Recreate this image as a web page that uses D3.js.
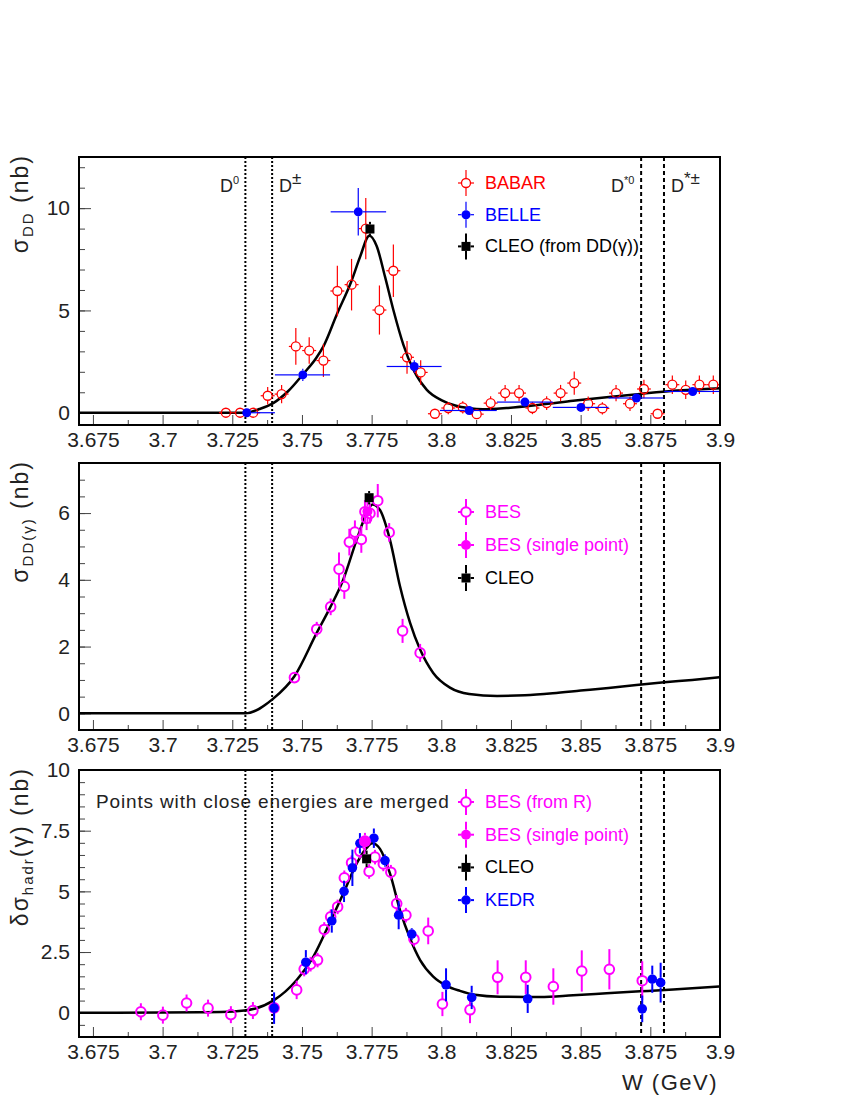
<!DOCTYPE html>
<html>
<head>
<meta charset="utf-8">
<script src="https://cdn.jsdelivr.net/npm/d3@7.9.0/dist/d3.min.js"></script>
<style>
  body { margin: 0; background: #fff; }
  text { font-family: "Liberation Sans", Arial, sans-serif; fill: #222; }
</style>
</head>
<body>
<svg id="chart" width="864" height="1118"></svg>
<script>
// x axis (W, GeV)
const wRange = [3.67, 3.9];
const xTicks = [3.675, 3.7, 3.725, 3.75, 3.775, 3.8, 3.825, 3.85, 3.875, 3.9];
// thresholds: D0 D0bar, D+D-, D*0 D0bar, D*+ D-
const thresholdW = [3.7297, 3.7393, 3.8717, 3.8799];
const thresholdDash = ['2,2', '2,2', '4,3', '4,3'];

// ---- top panel: sigma_DD ----
const babarW = [3.7227, 3.7278, 3.7325, 3.7377, 3.7427, 3.7478, 3.7526, 3.7577, 3.7627, 3.7678, 3.7729, 3.7778,
  3.7828, 3.7877, 3.7926, 3.7977, 3.8025, 3.8077, 3.8127, 3.8177, 3.8229, 3.8279, 3.8327, 3.8378, 3.8428, 3.8477,
  3.8527, 3.8578, 3.8627, 3.8677, 3.8727, 3.8776, 3.8829, 3.8877, 3.8926, 3.8976];
const babarS = [0, 0, 0, 0.83, 0.91, 3.24, 3.04, 2.55, 5.95, 6.26, 9.0, 5.02,
  6.94, 2.71, 1.97, -0.05, 0.23, 0.26, -0.07, 0.47, 0.96, 0.96, 0.23, 0.47, 0.96, 1.45,
  0.44, 0.21, 0.96, 0.44, 1.16, -0.05, 1.37, 1.12, 1.37, 1.37];
const babarErr = [0.1, 0.1, 0.1, 0.43, 0.45, 0.9, 0.65, 0.8, 1.24, 1.26, 1.5, 1.2,
  1.28, 0.8, 0.6, 0.1, 0.3, 0.3, 0.2, 0.34, 0.4, 0.4, 0.3, 0.34, 0.4, 0.57,
  0.35, 0.3, 0.4, 0.35, 0.45, 0.2, 0.45, 0.45, 0.45, 0.45];
const babarHalfBin = 0.0025;

const belleW = [3.7302, 3.7503, 3.7702, 3.7903, 3.81, 3.83, 3.8501, 3.87, 3.8902];
const belleLo = [3.7297, 3.7403, 3.7603, 3.7804, 3.7995, 3.82, 3.84, 3.86, 3.88];
const belleHi = [3.7403, 3.7601, 3.7802, 3.8001, 3.8199, 3.84, 3.86, 3.8797, 3.9];
const belleS = [0, 1.85, 9.82, 2.26, 0.11, 0.52, 0.26, 0.72, 1.04];
const belleErr = [0.1, 0.3, 1.16, 0.3, 0.2, 0.2, 0.2, 0.2, 0.2];

const cleoTopW = [3.7744];
const cleoTopS = [8.98];
const cleoTopErr = [0.35];

const fitTopW = [3.67, 3.7297, 3.7347, 3.7397, 3.745, 3.7505, 3.755, 3.7577, 3.7625, 3.7678, 3.7708, 3.7742,
  3.7768, 3.7798, 3.7828, 3.7864, 3.79, 3.7948, 3.8, 3.805, 3.81, 3.815, 3.8234, 3.8354, 3.8473, 3.8593,
  3.8713, 3.8832, 3.9];
const fitTopS = [0, 0, 0.18, 0.47, 1.05, 1.9, 2.65, 3.24, 4.8, 6.45, 7.6, 8.65,
  8.15, 6.65, 5.02, 3.32, 2.1, 1.12, 0.62, 0.35, 0.22, 0.17, 0.23, 0.39, 0.58, 0.76,
  0.92, 1.07, 1.2];

// ---- middle panel: sigma_DD(gamma) ----
const besW = [3.7473, 3.7553, 3.7603, 3.7633, 3.7652, 3.767, 3.769, 3.7713, 3.7726, 3.7732, 3.7744, 3.7772,
  3.7813, 3.7861, 3.7924];
const besS = [1.07, 2.52, 3.19, 4.32, 3.8, 5.13, 5.43, 5.21, 6.04, 5.84, 5.99, 6.37, 5.42, 2.47, 1.81];
const besErr = [0.16, 0.22, 0.25, 0.5, 0.37, 0.4, 0.35, 0.4, 0.35, 0.35, 0.3, 0.5, 0.28, 0.36, 0.27];
const besSingleMidW = [3.7735];
const besSingleMidS = [6.05];
const besSingleMidErr = [0.35];
const cleoMidW = [3.7741];
const cleoMidS = [6.46];
const cleoMidErr = [0.2];

const fitMidW = [3.67, 3.7297, 3.7397, 3.7473, 3.7553, 3.76, 3.7648, 3.7696, 3.7732, 3.7753, 3.778, 3.7816,
  3.7852, 3.7888, 3.7924, 3.7971, 3.8031, 3.81, 3.82, 3.83, 3.84, 3.85, 3.86, 3.87, 3.88, 3.89, 3.9];
const fitMidS = [0, 0, 0.44, 1.11, 2.41, 3.15, 4.0, 5.19, 5.99, 6.26, 6.09, 5.19,
  3.8, 2.71, 1.91, 1.21, 0.77, 0.58, 0.52, 0.54, 0.6, 0.68, 0.76, 0.85, 0.93, 1.0, 1.08];

// ---- bottom panel: delta sigma_hadr(gamma) ----
const besRW = [3.6922, 3.7001, 3.7086, 3.7163, 3.7245, 3.7324, 3.74, 3.7481, 3.7508, 3.7531, 3.7556, 3.758,
  3.7603, 3.7628, 3.7652, 3.7678, 3.7708, 3.7741, 3.7762, 3.7792, 3.7819, 3.784, 3.7873, 3.7902, 3.7953, 3.8004,
  3.8103, 3.8202, 3.8303, 3.8402, 3.8504, 3.8603, 3.8721];
const besRS = [0.04, -0.1, 0.4, 0.19, -0.08, 0.09, 0.2, 0.94, 1.8, 2.0, 2.17, 3.43,
  3.95, 4.36, 5.56, 6.18, 6.65, 5.82, 6.41, 6.13, 5.79, 4.5, 4.02, 3.03, 3.37, 0.36,
  0.12, 1.46, 1.46, 1.08, 1.72, 1.79, 1.32];
const besRErr = [0.35, 0.35, 0.35, 0.35, 0.35, 0.35, 0.4, 0.38, 0.3, 0.3, 0.3, 0.3,
  0.3, 0.3, 0.3, 0.3, 0.3, 0.3, 0.3, 0.3, 0.3, 0.35, 0.3, 0.3, 0.55, 0.5,
  0.55, 0.7, 0.7, 0.75, 0.85, 0.83, 0.8];
const besSingleBotW = [3.7726];
const besSingleBotS = [7.06];
const besSingleBotErr = [0.35];
const cleoBotW = [3.7732];
const cleoBotS = [6.34];
const cleoBotErr = [0.34];
const kedrW = [3.74, 3.7514, 3.7607, 3.7651, 3.7681, 3.7708, 3.7758, 3.7798, 3.7847, 3.7894, 3.8017, 3.8109,
  3.831, 3.8721, 3.8757, 3.8787];
const kedrS = [0.19, 2.08, 3.78, 5.0, 5.97, 6.98, 7.19, 6.27, 4.02, 3.24, 1.15, 0.63, 0.57, 0.16, 1.38, 1.24];
const kedrErr = [0.65, 0.5, 0.48, 0.44, 0.75, 0.42, 0.4, 0.25, 0.58, 0.24, 0.68, 0.48, 0.58, 0.55, 0.56, 0.82];

const fitBotW = [3.67, 3.7, 3.7134, 3.7254, 3.7325, 3.7397, 3.7481, 3.7541, 3.7601, 3.7648, 3.7696, 3.7732,
  3.7752, 3.778, 3.7816, 3.7852, 3.7888, 3.7924, 3.7971, 3.8019, 3.8067, 3.812, 3.821, 3.8354, 3.8473, 3.8593,
  3.8713, 3.8832, 3.9];
const fitBotS = [0, 0.01, 0.02, 0.05, 0.15, 0.5, 1.35, 2.31, 3.74, 4.9, 6.14, 6.79,
  6.98, 6.75, 5.73, 4.22, 3.06, 2.17, 1.49, 1.11, 0.9, 0.74, 0.66, 0.65, 0.72, 0.8,
  0.88, 0.96, 1.08];

const RED = '#ff0000', BLUE = '#0000ff', MAG = '#ff00ff', BLACK = '#000000';

const svg = d3.select('#chart');
svg.append('rect').attr('width', 864).attr('height', 1118).attr('fill', '#fff');

const frameLeft = 79, frameRight = 720;
const x = d3.scaleLinear().domain(wRange).range([frameLeft, frameRight]);

function drawPoints(g, y, ws, ss, errs, o) {
  ws.forEach((w, i) => {
    const cx = x(w), cy = y(ss[i]);
    const t = y(ss[i] + errs[i]), b = y(ss[i] - errs[i]);
    const r = o.r;
    const bar = (x1, y1, x2, y2) => g.append('line')
      .attr('x1', x1).attr('y1', y1).attr('x2', x2).attr('y2', y2)
      .attr('stroke', o.color).attr('stroke-width', o.bw);
    if (cy - t > r) { bar(cx, t, cx, cy - r); bar(cx, cy + r, cx, b); }
    if (o.lo) {
      const xl = x(o.lo[i]), xh = x(o.hi[i]);
      if (cx - xl > r) bar(xl, cy, cx - r, cy);
      if (xh - cx > r) bar(cx + r, cy, xh, cy);
    } else if (o.half) {
      bar(x(w - o.half), cy, cx - r, cy);
      bar(cx + r, cy, x(w + o.half), cy);
    }
    marker(g, cx, cy, o);
  });
}

function marker(g, cx, cy, o) {
  if (o.type === 'square') {
    g.append('rect').attr('x', cx - o.r).attr('y', cy - o.r)
      .attr('width', 2 * o.r).attr('height', 2 * o.r).attr('fill', o.color);
  } else if (o.type === 'open') {
    g.append('circle').attr('cx', cx).attr('cy', cy).attr('r', o.r)
      .attr('fill', 'none').attr('stroke', o.color).attr('stroke-width', o.sw);
  } else {
    g.append('circle').attr('cx', cx).attr('cy', cy).attr('r', o.r).attr('fill', o.color);
  }
}

function legendEntry(g, ly, label, o, textColor) {
  const lx = 466;
  const r = o.r;
  [[lx, ly - 13, lx, ly - r], [lx, ly + r, lx, ly + 13], [lx - 8, ly, lx - r, ly], [lx + r, ly, lx + 8, ly]]
    .forEach(([x1, y1, x2, y2]) => g.append('line')
      .attr('x1', x1).attr('y1', y1).attr('x2', x2).attr('y2', y2)
      .attr('stroke', o.color).attr('stroke-width', o.bw));
  marker(g, lx, ly, o);
  g.append('text').attr('x', 485).attr('y', ly + 6).attr('font-size', 18)
    .style('fill', textColor).text(label);
}

function drawPanel(p) {
  const g = svg.append('g');
  const y = d3.scaleLinear().domain(p.yDomain).range([p.bottom, p.top]);
  const clipId = 'clip' + p.top;
  g.append('clipPath').attr('id', clipId).append('rect')
    .attr('x', frameLeft).attr('y', p.top).attr('width', frameRight - frameLeft).attr('height', p.bottom - p.top);

  // axes (ticks pointing inwards)
  const styleAxis = (a) => {
    a.select('.domain').remove();
    a.selectAll('.tick line').attr('stroke', '#444').attr('stroke-width', 1);
    a.selectAll('text').attr('font-size', 21).style('fill', '#222')
      .attr('font-family', '"Liberation Sans", Arial, sans-serif');
  };
  g.append('g').attr('transform', `translate(0,${p.bottom})`)
    .call(d3.axisBottom(x).tickValues(d3.range(3.6875, 3.9, 0.025)).tickSizeInner(-5).tickSizeOuter(0).tickFormat(''))
    .call(styleAxis);
  g.append('g').attr('transform', `translate(0,${p.bottom})`)
    .call(d3.axisBottom(x).tickValues(xTicks).tickSizeInner(-10).tickSizeOuter(0).tickPadding(7)
      .tickFormat((d) => String(+d.toFixed(3))))
    .call(styleAxis);
  g.append('g').attr('transform', `translate(${frameLeft},0)`)
    .call(d3.axisLeft(y).tickValues(d3.range(Math.ceil(p.yDomain[0] / p.yMinor) * p.yMinor, p.yDomain[1], p.yMinor))
      .tickSizeInner(-6).tickSizeOuter(0).tickFormat(''))
    .call(styleAxis);
  g.append('g').attr('transform', `translate(${frameLeft},0)`)
    .call(d3.axisLeft(y).tickValues(p.yTicks).tickSizeInner(-12).tickSizeOuter(0).tickPadding(9)
      .tickFormat((d) => String(d)))
    .call(styleAxis);

  // threshold lines
  thresholdW.forEach((w, i) => {
    g.append('line').attr('x1', x(w)).attr('x2', x(w)).attr('y1', p.top).attr('y2', p.bottom)
      .attr('stroke', '#000').attr('stroke-width', 2).attr('stroke-dasharray', thresholdDash[i]);
  });

  const inner = g.append('g').attr('clip-path', `url(#${clipId})`);
  const line = d3.line().x((d) => x(d[0])).y((d) => y(d[1])).curve(d3.curveMonotoneX);
  inner.append('path').datum(d3.zip(p.fitW, p.fitS)).attr('d', line)
    .attr('fill', 'none').attr('stroke', '#000').attr('stroke-width', 2.5);

  p.series.forEach((s) => drawPoints(inner, y, s.w, s.s, s.err, s.o));

  g.append('rect').attr('x', frameLeft).attr('y', p.top).attr('width', frameRight - frameLeft).attr('height', p.bottom - p.top)
    .attr('fill', 'none').attr('stroke', '#000').attr('stroke-width', 2);

  p.legend.forEach((l, i) => legendEntry(g, p.legendY + i * p.legendStep, l.label, l.o, l.color));

  // y title
  const t = g.append('text').attr('transform', `translate(28,${p.top - 3}) rotate(-90)`)
    .attr('text-anchor', 'end').attr('font-size', 23).attr('letter-spacing', 2);
  p.title(t);
  return { g, y };
}

const oBabar = { type: 'open', color: RED, r: 4.5, sw: 1.3, bw: 1.2, half: babarHalfBin };
const oBelle = { type: 'filled', color: BLUE, r: 4.5, bw: 1.2, lo: belleLo, hi: belleHi };
const oCleo = { type: 'square', color: BLACK, r: 4.5, bw: 2 };
const oBes = { type: 'open', color: MAG, r: 4.8, sw: 2, bw: 2 };
const oBesSingle = { type: 'filled', color: MAG, r: 5, bw: 2 };
const oKedr = { type: 'filled', color: BLUE, r: 4.8, bw: 2 };

drawPanel({
  top: 157, bottom: 425, yDomain: [-0.6, 12.5], yTicks: [0, 5, 10], yMinor: 1,
  fitW: fitTopW, fitS: fitTopS,
  series: [
    { w: babarW, s: babarS, err: babarErr, o: oBabar },
    { w: belleW, s: belleS, err: belleErr, o: oBelle },
    { w: cleoTopW, s: cleoTopS, err: cleoTopErr, o: oCleo },
  ],
  legendY: 183, legendStep: 31.7,
  legend: [
    { label: 'BABAR', o: { ...oBabar, half: null }, color: RED },
    { label: 'BELLE', o: { ...oBelle, lo: null }, color: BLUE },
    { label: 'CLEO (from DD(γ))', o: oCleo, color: BLACK },
  ],
  title: (t) => {
    t.append('tspan').text('σ');
    t.append('tspan').attr('font-size', 15).attr('dy', 5).text('DD');
    t.append('tspan').attr('dy', -5).text('  (nb)');
  },
});

// threshold labels (top panel only)
const dLabels = [
  { x: 220, base: 'D', sup: '0' },
  { x: 279, base: 'D', sup: '±' },
  { x: 611, base: 'D', sup: '*0' },
  { x: 671, base: 'D', sup: '*±' },
];
dLabels.forEach((d) => {
  const t = svg.append('text').attr('x', d.x).attr('y', 192).attr('font-size', 18);
  t.append('tspan').text(d.base);
  t.append('tspan').attr('dy', -8).attr('font-size', d.sup === '±' || d.sup === '*±' ? 17 : 11).text(d.sup);
});

drawPanel({
  top: 463, bottom: 730, yDomain: [-0.5, 7.5], yTicks: [0, 2, 4, 6], yMinor: 0.5,
  fitW: fitMidW, fitS: fitMidS,
  series: [
    { w: besW, s: besS, err: besErr, o: oBes },
    { w: besSingleMidW, s: besSingleMidS, err: besSingleMidErr, o: oBesSingle },
    { w: cleoMidW, s: cleoMidS, err: cleoMidErr, o: oCleo },
  ],
  legendY: 512, legendStep: 33,
  legend: [
    { label: 'BES', o: oBes, color: MAG },
    { label: 'BES (single point)', o: oBesSingle, color: MAG },
    { label: 'CLEO', o: oCleo, color: BLACK },
  ],
  title: (t) => {
    t.append('tspan').text('σ');
    t.append('tspan').attr('font-size', 15).attr('dy', 5).text('DD(γ)');
    t.append('tspan').attr('dy', -5).text('  (nb)');
  },
});

drawPanel({
  top: 770, bottom: 1037, yDomain: [-1, 10], yTicks: [0, 2.5, 5, 7.5, 10], yMinor: 0.5,
  fitW: fitBotW, fitS: fitBotS,
  series: [
    { w: besRW, s: besRS, err: besRErr, o: oBes },
    { w: kedrW, s: kedrS, err: kedrErr, o: oKedr },
    { w: besSingleBotW, s: besSingleBotS, err: besSingleBotErr, o: { ...oBesSingle, r: 6 } },
    { w: cleoBotW, s: cleoBotS, err: cleoBotErr, o: oCleo },
  ],
  legendY: 802, legendStep: 32.7,
  legend: [
    { label: 'BES (from R)', o: oBes, color: MAG },
    { label: 'BES (single point)', o: oBesSingle, color: MAG },
    { label: 'CLEO', o: oCleo, color: BLACK },
    { label: 'KEDR', o: oKedr, color: BLUE },
  ],
  title: (t) => {
    t.append('tspan').text('δσ');
    t.append('tspan').attr('font-size', 15).attr('dy', 5).text('hadr');
    t.append('tspan').attr('dy', -5).text('(γ)  (nb)');
  },
});

svg.append('text').attr('x', 96).attr('y', 808).attr('font-size', 19).attr('letter-spacing', 0.85)
  .text('Points with close energies are merged');

svg.append('text').attr('x', 718).attr('y', 1090).attr('text-anchor', 'end').attr('font-size', 22)
  .attr('letter-spacing', 1.5).text('W  (GeV)');
</script>
</body>
</html>
